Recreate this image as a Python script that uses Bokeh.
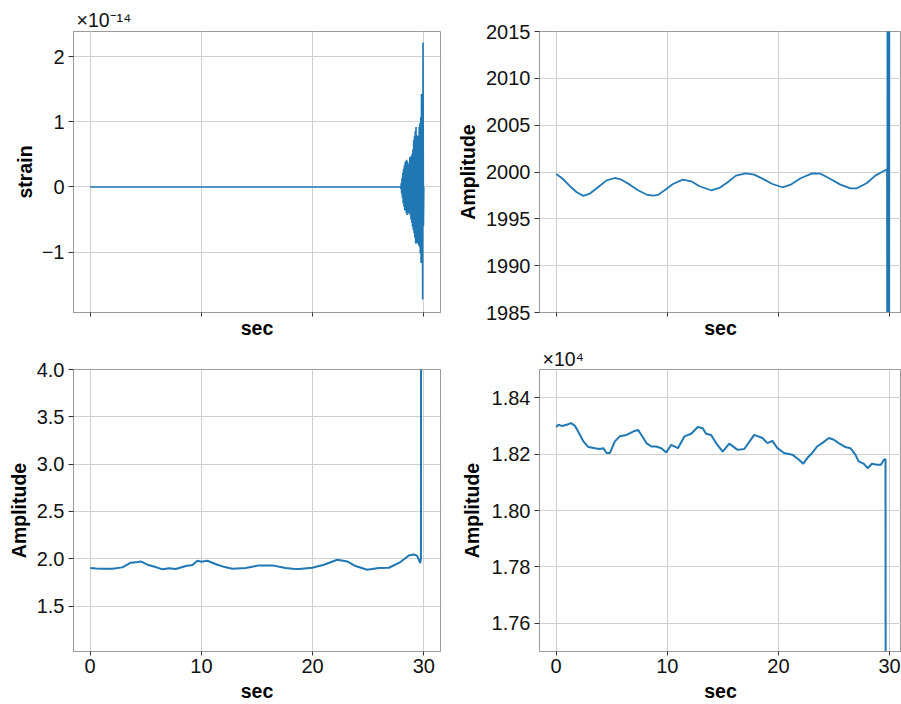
import numpy as np
from bokeh.plotting import figure
from bokeh.layouts import column, row
from bokeh.models import Range1d, FixedTicker, CustomJSTickFormatter
from bokeh.embed import file_html
from bokeh.resources import INLINE

FONT = "Liberation Sans"
BLUE = "#1f77b4"

# ---------------- data ----------------
x_ticks = [0, 10, 20, 30]

# Panel 1: strain -- quiet part, then the chirp sampled every chirp_dt s from chirp_t0
strain_quiet_t = [0.0, 27.86]
strain_quiet = [0.0, 0.0]
chirp_t0 = 27.9
chirp_dt = 0.035
chirp_strain_e14 = [
    0.00, -0.03, 0.06, -0.10, 0.14, -0.17, 0.22, -0.25, 0.28, -0.30,
    0.33, -0.36, 0.38, -0.34, 0.40, -0.40, 0.42, -0.43, 0.39, -0.42,
    0.36, -0.38, 0.33, -0.40, 0.46, -0.43, 0.44, -0.50, 0.48, -0.55,
    0.51, -0.61, 0.58, -0.66, 0.72, -0.71, 0.78, -0.78, 0.86, -0.87,
    0.92, -0.85, 0.80, -0.87, 0.71, -0.86, 0.78, -0.90, 0.92, -0.92,
    0.98, -1.02, 1.07, -1.17, 1.43, -1.05, 1.40, -1.73, 2.22, -0.60,
    0.00,
]
strain_ticks_e14 = [-1, 0, 1, 2]
strain_offset_text = "×10⁻¹⁴"

# Panel 2: amplitude around 2000
amp2_t = [0.00, 0.51, 1.25, 1.85, 2.45, 3.04, 3.79, 4.54, 5.28, 5.88,
          6.63, 7.37, 8.12, 8.72, 9.16, 9.76, 10.51, 11.40, 12.15, 12.90,
          13.94, 14.69, 15.43, 16.18, 17.07, 17.82, 18.57, 19.46, 20.36, 21.10,
          22.00, 23.04, 23.79, 24.69, 25.58, 26.48, 27.07, 27.97, 28.72, 29.61,
          29.78, 29.80, 29.82, 29.90, 29.97, 29.99]
amp2 = [1999.79, 1999.36, 1998.48, 1997.84, 1997.45, 1997.70, 1998.40, 1999.11, 1999.36, 1999.18,
        1998.65, 1998.05, 1997.59, 1997.48, 1997.55, 1998.05, 1998.72, 1999.18, 1999.01, 1998.48,
        1998.05, 1998.30, 1998.90, 1999.61, 1999.86, 1999.72, 1999.29, 1998.72, 1998.37, 1998.65,
        1999.33, 1999.86, 1999.82, 1999.26, 1998.65, 1998.26, 1998.26, 1998.83, 1999.61, 2000.18,
        2000.30, 1960.0, 2040.0, 2013.5, 1960.0, 2040.0]
amp2_ticks = [1985, 1990, 1995, 2000, 2005, 2010, 2015]

# Panel 3: amplitude around 1.9
amp3_t = [0.00, 0.55, 1.10, 2.00, 2.90, 3.65, 4.10, 4.55, 5.15, 5.80,
          6.50, 7.10, 7.70, 8.60, 9.20, 9.64, 10.00, 10.54, 11.44, 12.10,
          12.78, 13.98, 15.18, 16.38, 17.57, 18.20, 18.77, 19.97, 21.02, 22.22,
          23.11, 23.86, 24.91, 25.96, 26.86, 27.90, 28.65, 29.10, 29.40, 29.55,
          29.68, 29.74, 29.76]
amp3 = [1.902, 1.896, 1.895, 1.895, 1.909, 1.958, 1.962, 1.972, 1.937, 1.915,
        1.888, 1.900, 1.892, 1.923, 1.935, 1.979, 1.968, 1.979, 1.937, 1.912,
        1.895, 1.902, 1.930, 1.930, 1.902, 1.895, 1.891, 1.905, 1.937, 1.989,
        1.972, 1.923, 1.884, 1.902, 1.905, 1.965, 2.035, 2.046, 2.030, 1.990,
        1.955, 2.000, 6.000]
amp3_ticks = [1.5, 2.0, 2.5, 3.0, 3.5, 4.0]

# Panel 4: amplitude around 1.82e4
amp4_t = [0.00, 0.21, 0.51, 0.96, 1.34, 1.70, 2.15, 2.45, 2.90, 3.49,
          3.94, 4.24, 4.54, 4.84, 5.28, 5.73, 6.33, 6.93, 7.37, 7.67,
          8.12, 8.57, 9.01, 9.46, 9.91, 10.36, 10.96, 11.55, 12.15, 12.75,
          13.19, 13.49, 13.94, 14.39, 14.99, 15.58, 16.33, 16.93, 17.82, 18.57,
          19.01, 19.46, 19.91, 20.51, 21.25, 21.85, 22.24, 22.60, 23.04, 23.49,
          23.94, 24.54, 24.99, 25.43, 26.03, 26.48, 26.93, 27.22, 27.67, 28.03,
          28.42, 28.87, 29.22, 29.50, 29.64, 29.66]
amp4 = [18296, 18304, 18300, 18304, 18310, 18300, 18268, 18245, 18225, 18221,
        18218, 18221, 18204, 18204, 18245, 18263, 18268, 18280, 18286, 18268,
        18239, 18227, 18227, 18221, 18206, 18233, 18221, 18263, 18272, 18296,
        18292, 18272, 18268, 18239, 18209, 18237, 18215, 18218, 18268, 18257,
        18239, 18247, 18221, 18204, 18198, 18180, 18166, 18186, 18204, 18227,
        18239, 18257, 18251, 18239, 18225, 18221, 18198, 18174, 18166, 18150,
        18166, 18162, 18162, 18180, 18182, 17000]
amp4_ticks = [17600, 17800, 18000, 18200, 18400]
amp4_offset_text = "×10⁴"

# ---------------- layout sizes (px) ----------------
LEFT_W, RIGHT_W = 445, 456
TOP_H, BOT_H = 341, 363
FRAME_W_L, FRAME_W_R = 367, 362
FRAME_H_T, FRAME_H_B = 282, 283
TOP_MB_T, BOT_MB_T = 31, 28


def make_fig(width, height, xr, yr, mbl, mbr, mbt, mbb):
    p = figure(width=width, height=height,
               x_range=Range1d(*xr), y_range=Range1d(*yr),
               output_backend="svg", toolbar_location=None,
               min_border_left=mbl, min_border_right=mbr,
               min_border_top=mbt, min_border_bottom=mbb)
    p.background_fill_color = "white"
    p.border_fill_color = "white"
    p.outline_line_color = "#9a9a9a"
    p.outline_line_width = 1
    for ax in (p.xaxis[0], p.yaxis[0]):
        ax.axis_line_color = "#9a9a9a"
        ax.major_tick_line_color = "#333333"
        ax.major_tick_in = 0
        ax.minor_tick_line_color = None
        ax.major_label_text_font = FONT
        ax.major_label_text_font_size = "20px"
        ax.major_label_text_color = "#111111"
        ax.axis_label_text_font = FONT
        ax.axis_label_text_font_size = "19.5px"
        ax.axis_label_text_font_style = "bold"
        ax.axis_label_text_color = "#000000"
    p.xaxis.major_tick_out = 4
    p.yaxis.major_tick_out = 5
    p.yaxis.major_label_standoff = 4
    p.xaxis.axis_label = "sec"
    p.xgrid.ticker = FixedTicker(ticks=x_ticks)
    p.grid.grid_line_color = "#d0d0d0"
    p.grid.grid_line_width = 1
    return p


def top_row_xaxis(p):
    # tick marks only, no tick labels (shared x axis)
    p.xaxis.ticker = FixedTicker(ticks=[], minor_ticks=x_ticks)
    p.xaxis.minor_tick_line_color = "#333333"
    p.xaxis.minor_tick_out = 4
    p.xaxis.minor_tick_in = 0
    p.xaxis.major_label_standoff = 0
    p.xaxis.axis_label_standoff = 0


def bottom_row_xaxis(p):
    p.xaxis.ticker = FixedTicker(ticks=x_ticks)
    p.xaxis.formatter = CustomJSTickFormatter(code="return tick.toFixed(0);")
    p.xaxis.major_label_standoff = 3
    p.xaxis.axis_label_standoff = 4


def offset_title(p, text, offset, standoff):
    p.title.text = text
    p.title.align = "left"
    p.title.offset = offset
    p.title.standoff = standoff
    p.title.text_font = FONT
    p.title.text_font_size = "19.5px"
    p.title.text_font_style = "normal"
    p.title.text_color = "#111111"


# ---------------- panel 1 ----------------
p1 = make_fig(LEFT_W, TOP_H, (-1.5, 31.5), (-1.93e-14, 2.39e-14),
              73, LEFT_W - 73 - FRAME_W_L, TOP_MB_T, TOP_H - TOP_MB_T - FRAME_H_T)
top_row_xaxis(p1)
p1.yaxis.ticker = FixedTicker(ticks=[v * 1e-14 for v in strain_ticks_e14])
p1.yaxis.formatter = CustomJSTickFormatter(
    code="const v = Math.round(tick * 1e14); return v < 0 ? '\u2212' + Math.abs(v) : '' + v;")
p1.yaxis.axis_label = "strain"
p1.yaxis.axis_label_standoff = 3
chirp_t = chirp_t0 + chirp_dt * np.arange(len(chirp_strain_e14))
strain_t = np.concatenate([strain_quiet_t, chirp_t])
strain = np.concatenate([strain_quiet, np.array(chirp_strain_e14) * 1e-14])
p1.line(strain_t, strain, line_color=BLUE, line_width=1.6)
offset_title(p1, strain_offset_text, 3, 1)

# ---------------- panel 2 ----------------
x_right = (-1.5, 31.08)
p2 = make_fig(RIGHT_W, TOP_H, x_right, (1985, 2015),
              RIGHT_W - FRAME_W_R, 0, TOP_MB_T, TOP_H - TOP_MB_T - FRAME_H_T)
top_row_xaxis(p2)
p2.yaxis.ticker = FixedTicker(ticks=amp2_ticks)
p2.yaxis.formatter = CustomJSTickFormatter(code="return tick.toFixed(0);")
p2.yaxis.axis_label = "Amplitude"
p2.yaxis.axis_label_standoff = 4
p2.line(amp2_t, amp2, line_color=BLUE, line_width=1.8)

# ---------------- panel 3 ----------------
p3 = make_fig(LEFT_W, BOT_H, (-1.5, 31.5), (1.02, 4.0),
              73, LEFT_W - 73 - FRAME_W_L, BOT_MB_T, BOT_H - BOT_MB_T - FRAME_H_B)
bottom_row_xaxis(p3)
p3.yaxis.ticker = FixedTicker(ticks=amp3_ticks)
p3.yaxis.formatter = CustomJSTickFormatter(code="return tick.toFixed(1);")
p3.yaxis.axis_label = "Amplitude"
p3.yaxis.axis_label_standoff = 4
p3.line(amp3_t, amp3, line_color=BLUE, line_width=2)

# ---------------- panel 4 ----------------
p4 = make_fig(RIGHT_W, BOT_H, x_right, (17500, 18500),
              RIGHT_W - FRAME_W_R, 0, BOT_MB_T, BOT_H - BOT_MB_T - FRAME_H_B)
bottom_row_xaxis(p4)
p4.yaxis.ticker = FixedTicker(ticks=amp4_ticks)
p4.yaxis.formatter = CustomJSTickFormatter(code="return (tick / 1e4).toFixed(2);")
p4.yaxis.axis_label = "Amplitude"
p4.yaxis.axis_label_standoff = 6
p4.line(amp4_t, amp4, line_color=BLUE, line_width=2)
offset_title(p4, amp4_offset_text, 3, 0)

layout = column(row(p1, p2, spacing=0), row(p3, p4, spacing=0), spacing=0)

with open("out.html", "w") as f:
    f.write(file_html(layout, INLINE))
